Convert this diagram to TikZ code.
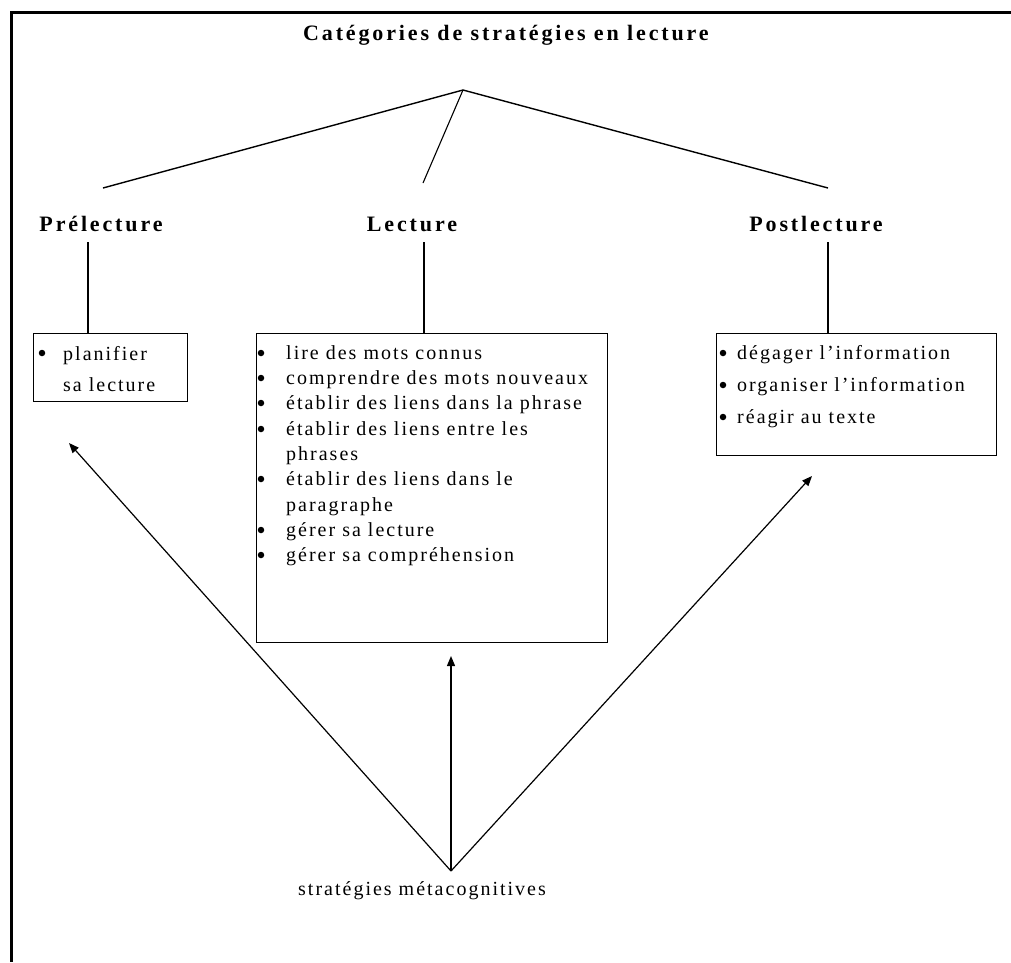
\documentclass[tikz,border=0pt]{standalone}
\usepackage{fontspec}
\setmainfont{Liberation Serif}
\newfontfamily\bodyfont[LetterSpace=10]{Liberation Serif}
\newfontfamily\headfont[LetterSpace=13]{Liberation Serif}
\usetikzlibrary{arrows.meta}
\begin{document}
\begin{tikzpicture}[x=1pt,y=-1pt,
  head/.style={font=\headfont\bfseries\fontsize{22}{26}\selectfont, inner sep=0pt},
  body/.style={font=\bodyfont\fontsize{20}{24}\selectfont, inner sep=0pt, anchor=base west},
  bul/.style={circle, fill=black, inner sep=0pt, minimum size=6.5pt},
  box/.style={draw, line width=1.4pt, inner sep=0pt, anchor=north west},
  tree/.style={line width=1.4pt},
  arr/.style={line width=1.2pt, -{Triangle[length=10pt,width=8pt]}}]
\useasboundingbox (0,0) rectangle (1011,962);
% frame
\draw[line width=3pt] (1011,12) -- (11.5,12) -- (11.5,962);
% headings
\node[head, anchor=base west] (title) at (303,40) {Catégories de stratégies en lecture};
\node[head, anchor=base] (pre) at (101,231) {Prélecture};
\node[head, anchor=base] (lec) at (412,231) {Lecture};
\node[head, anchor=base] (post) at (816,231) {Postlecture};
% tree
\coordinate (apex) at (463,90);
\coordinate (t1) at (103,188);
\coordinate (t2) at (423,183);
\coordinate (t3) at (828,188);
\draw[tree] (t1) -- (apex) -- (t3);
\draw[line width=1.1pt] (apex) -- (t2);
% boxes
\node[box, minimum width=154pt, minimum height=68pt] (b1) at (33,333) {};
\node[box, minimum width=351pt, minimum height=309pt] (b2) at (256,333) {};
\node[box, minimum width=280pt, minimum height=122pt] (b3) at (716,333) {};
% verticals
\coordinate (v1) at (88,242);
\coordinate (v2) at (424,242);
\coordinate (v3) at (828,242);
\draw[line width=1.2pt] (v1) -- (v1 |- b1.north);
\draw[line width=1.2pt] (v2) -- (v2 |- b2.north);
\draw[line width=1.2pt] (v3) -- (v3 |- b3.north);
% box 1 text
\node[bul] (p1) at (42,353) {};
\node[body] (l11) at (63,360) {planifier};
\node[body] (l12) at (63,391) {sa lecture};
% box 2 text
\node[bul] (q1) at (261,353) {};
\node[body] (l21) at (286,359) {lire des mots connus};
\node[bul] (q2) at (261,378) {};
\node[body] (l22) at (286,384) {comprendre des mots nouveaux};
\node[bul] (q3) at (261,403) {};
\node[body] (l23) at (286,409) {établir des liens dans la phrase};
\node[bul] (q4) at (261,429) {};
\node[body] (l24) at (286,435) {établir des liens entre les};
\node[body] (l25) at (286,460) {phrases};
\node[bul] (q5) at (261,479) {};
\node[body] (l26) at (286,485) {établir des liens dans le};
\node[body] (l27) at (286,511) {paragraphe};
\node[bul] (q6) at (261,530) {};
\node[body] (l28) at (286,536) {gérer sa lecture};
\node[bul] (q7) at (261,555) {};
\node[body] (l29) at (286,561) {gérer sa compréhension};
% box 3 text
\node[bul] (r1) at (723,353) {};
\node[body] (l31) at (737,359) {dégager l’information};
\node[bul] (r2) at (723,385) {};
\node[body] (l32) at (737,391) {organiser l’information};
\node[bul] (r3) at (723,417) {};
\node[body] (l33) at (737,423) {réagir au texte};
% bottom label and arrows
\node[body] (meta) at (298,895) {stratégies métacognitives};
\coordinate (src) at (451,871);
\coordinate (a1) at (69,443);
\coordinate (a2) at (451,656);
\coordinate (a3) at (812,476);
\draw[arr] (src) -- (a1);
\draw[arr] (src) -- (a2);
\draw[arr] (src) -- (a3);
\end{tikzpicture}
\end{document}
